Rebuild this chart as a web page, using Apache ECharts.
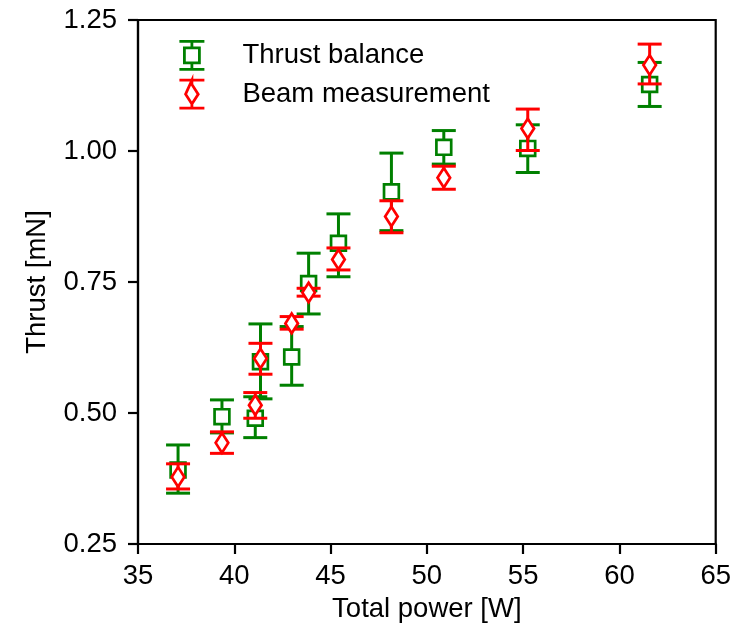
<!DOCTYPE html>
<html>
<head>
<meta charset="utf-8">
<script src="https://cdn.jsdelivr.net/npm/echarts@6/dist/echarts.min.js"></script>
<style>html,body{margin:0;padding:0;background:#fff}#c{width:734px;height:629px}</style>
</head>
<body>
<div id="c"></div>
<script>
const power = [37.08, 39.36, 41.09, 41.36, 42.98, 43.86, 45.41, 48.16, 50.88, 55.24, 61.57];
const thrustBalance = [0.391, 0.493, 0.490, 0.598, 0.607, 0.747, 0.824, 0.922, 1.007, 1.005, 1.127];
const thrustBalanceLow = [0.347, 0.462, 0.453, 0.527, 0.553, 0.689, 0.760, 0.848, 0.975, 0.959, 1.085];
const thrustBalanceHigh = [0.439, 0.525, 0.531, 0.670, 0.665, 0.805, 0.880, 0.996, 1.039, 1.050, 1.169];
const beamMeasurement = [0.378, 0.443, 0.515, 0.604, 0.671, 0.730, 0.793, 0.875, 0.949, 1.043, 1.164];
const beamLow = [0.355, 0.423, 0.490, 0.574, 0.660, 0.723, 0.773, 0.844, 0.927, 1.001, 1.128];
const beamHigh = [0.403, 0.464, 0.539, 0.633, 0.684, 0.738, 0.815, 0.905, 0.971, 1.080, 1.204];
const xTicks = [35, 40, 45, 50, 55, 60, 65];
const yTicks = [0.25, 0.50, 0.75, 1.00, 1.25];

const GREEN = '#008000', RED = '#ff0000';
const FONT = 'Liberation Sans, Arial, Helvetica, sans-serif';
const FS = 27.5;

function build(vals, lo, hi) {
  return power.map((p, i) => [p, vals[i], lo[i], hi[i]]);
}

function makeRender(color, marker) {
  return function (params, api) {
    const x = api.value(0), y = api.value(1), lo = api.value(2), hi = api.value(3);
    const c = api.coord([x, y]);
    const cl = api.coord([x, lo]);
    const ch = api.coord([x, hi]);
    const cw = 12;
    const ls = { stroke: color, lineWidth: 3 };
    const children = [
      { type: 'line', shape: { x1: c[0], y1: ch[1], x2: c[0], y2: cl[1] }, style: ls },
      { type: 'line', shape: { x1: c[0] - cw, y1: ch[1], x2: c[0] + cw, y2: ch[1] }, style: ls },
      { type: 'line', shape: { x1: c[0] - cw, y1: cl[1], x2: c[0] + cw, y2: cl[1] }, style: ls }
    ];
    if (marker === 'square') {
      const h = 7.4;
      children.push({ type: 'rect', shape: { x: c[0] - h, y: c[1] - h, width: 2 * h, height: 2 * h },
        style: { fill: '#fff', stroke: color, lineWidth: 2.7 } });
    } else {
      const w = 6.3, h = 9.8;
      children.push({ type: 'polygon', shape: { points: [[c[0], c[1] - h], [c[0] + w, c[1]], [c[0], c[1] + h], [c[0] - w, c[1]]] },
        style: { fill: '#fff', stroke: color, lineWidth: 2.7, lineJoin: 'miter' } });
    }
    return { type: 'group', children: children };
  };
}

const iconSquare = 'path://M0,1 L25,1 M12.5,1 L12.5,7.5 M5,7.5 L20,7.5 L20,22.5 L5,22.5 Z M12.5,22.5 L12.5,29 M0,29 L25,29';
const iconDiamond = 'path://M0,1 L25,1 M12.5,1 L12.5,5.2 L18.8,15 L12.5,24.8 L6.2,15 Z M12.5,24.8 L12.5,29 M0,29 L25,29';

const chart = echarts.init(document.getElementById('c'), null, { renderer: 'canvas' });
chart.setOption({
  animation: false,
  backgroundColor: '#fff',
  grid: { left: 138, right: 16, top: 20, bottom: 85, show: true, borderColor: '#000', borderWidth: 2.2, backgroundColor: 'transparent' },
  legend: {
    left: 178, top: 40, orient: 'vertical', padding: 0,
    itemWidth: 25, itemHeight: 30, itemGap: 8,
    textStyle: { fontFamily: FONT, fontSize: FS, color: '#000', padding: [0, 0, 0, 33] },
    data: [
      { name: 'Thrust balance', icon: iconSquare, itemStyle: { color: '#fff', borderColor: GREEN, borderWidth: 2.8 } },
      { name: 'Beam measurement', icon: iconDiamond, itemStyle: { color: '#fff', borderColor: RED, borderWidth: 2.8 } }
    ]
  },
  xAxis: {
    type: 'value', min: xTicks[0], max: xTicks[xTicks.length - 1], interval: 5,
    name: 'Total power [W]', nameLocation: 'middle', nameGap: 51,
    nameTextStyle: { fontFamily: FONT, fontSize: FS, color: '#000' },
    axisLine: { show: true, lineStyle: { color: '#000', width: 2.2 } },
    axisTick: { show: true, inside: false, length: 10, lineStyle: { color: '#000', width: 2.2 } },
    axisLabel: { fontFamily: FONT, fontSize: FS, color: '#000', margin: 18 },
    splitLine: { show: false }
  },
  yAxis: {
    type: 'value', min: yTicks[0], max: yTicks[yTicks.length - 1], interval: 0.25,
    name: 'Thrust [mN]', nameLocation: 'middle', nameGap: 87,
    nameTextStyle: { fontFamily: FONT, fontSize: FS, color: '#000' },
    axisLine: { show: true, lineStyle: { color: '#000', width: 2.2 } },
    axisTick: { show: true, inside: false, length: 10, lineStyle: { color: '#000', width: 2.2 } },
    axisLabel: { fontFamily: FONT, fontSize: FS, color: '#000', margin: 21, formatter: v => v.toFixed(2) },
    splitLine: { show: false }
  },
  series: [
    { name: 'Thrust balance', type: 'custom', renderItem: makeRender(GREEN, 'square'),
      data: build(thrustBalance, thrustBalanceLow, thrustBalanceHigh), encode: { x: 0, y: [1, 2, 3] }, z: 2,
      itemStyle: { color: GREEN } },
    { name: 'Beam measurement', type: 'custom', renderItem: makeRender(RED, 'diamond'),
      data: build(beamMeasurement, beamLow, beamHigh), encode: { x: 0, y: [1, 2, 3] }, z: 3,
      itemStyle: { color: RED } }
  ]
});
</script>
</body>
</html>
